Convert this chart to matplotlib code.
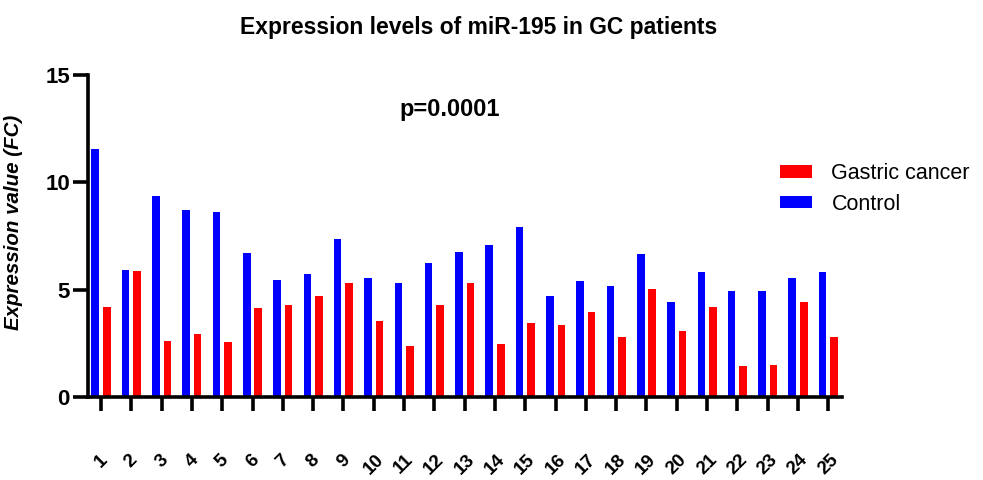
import numpy as np
import matplotlib.pyplot as plt
import matplotlib.transforms as mtransforms

plt.rcParams['font.family'] = ['Liberation Sans', 'DejaVu Sans']

# Valores
pacientes = [str(i) for i in range(1, 26)]
control = [11.57, 5.93, 9.38, 8.71, 8.63, 6.69, 5.47, 5.71, 7.35, 5.55,
           5.33, 6.22, 6.76, 7.07, 7.90, 4.72, 5.39, 5.18, 6.68, 4.43,
           5.83, 4.94, 4.94, 5.55, 5.83]
cancer = [4.19, 5.85, 2.61, 2.92, 2.55, 4.13, 4.28, 4.72, 5.33, 3.52,
          2.39, 4.27, 5.33, 2.47, 3.44, 3.36, 3.97, 2.77, 5.02, 3.06,
          4.19, 1.42, 1.49, 4.43, 2.77]

x = np.arange(len(pacientes))
w = 0.25
off = 0.19

fig = plt.figure(figsize=(9.83, 4.8), dpi=100)
ax = fig.add_axes([0.0895, 0.173, 0.767, 0.671])

ax.bar(x + off, cancer, w, color='#ff0000', label='Gastric cancer')
ax.bar(x - off, control, w, color='#0000ff', label='Control')

ax.set_xlim(-0.43, 24.45)
ax.set_ylim(0, 15)
ax.set_yticks([0, 5, 10, 15])
ax.set_xticks(x)
ax.set_xticklabels(pacientes, rotation=45, ha='center', va='top',
                   fontsize=13.5, fontweight='bold')
shift = mtransforms.ScaledTranslation(-3 / 100, 0, fig.dpi_scale_trans)
for lab in ax.get_xticklabels():
    lab.set_transform(lab.get_transform() + shift)
for lab in ax.get_yticklabels():
    lab.set_fontsize(16)
    lab.set_fontweight('bold')

for s in ['top', 'right']:
    ax.spines[s].set_visible(False)
for s in ['left', 'bottom']:
    ax.spines[s].set_linewidth(2.6)
ax.tick_params(axis='y', length=11, width=2.6, pad=2)
ax.tick_params(axis='x', length=10, width=2.6, pad=29)

ax.set_ylabel('Expression value (FC)', fontsize=14.8, fontstyle='italic',
              fontweight='bold')
ax.yaxis.set_label_coords(-0.086, 0.543)

fig.text(0.487, 0.942, 'Expression levels of miR-195 in GC patients',
         ha='center', va='center', fontsize=16.5, fontweight='bold')
ax.text(11.5, 13.4, 'p=0.0001', ha='center', va='center',
        fontsize=17, fontweight='bold')

fig.legend(loc='upper left', bbox_to_anchor=(0.7825, 0.683), frameon=False,
           fontsize=15.5, borderpad=0, handlelength=1.49, handleheight=0.54,
           handletextpad=0.9, labelspacing=0.45)

fig.savefig('out.png', dpi=100)
